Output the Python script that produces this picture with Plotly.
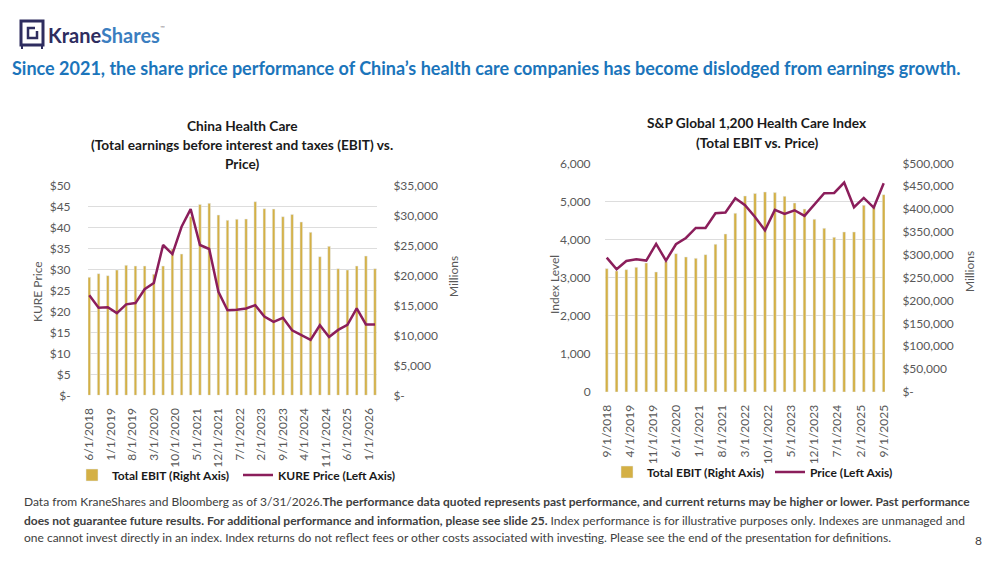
import plotly.graph_objects as go

FONT = "Lato"
GOLD = "#D4B045"
MAROON = "#8B1E5B"
GRID = "#DDDDDD"
TICK = "#595959"

# China Health Care (KURE) - quarterly
china_dates = [
    "2018-06-01", "2018-09-01", "2018-12-01",
    "2019-03-01", "2019-06-01", "2019-09-01", "2019-12-01",
    "2020-03-01", "2020-06-01", "2020-09-01", "2020-12-01",
    "2021-03-01", "2021-06-01", "2021-09-01", "2021-12-01",
    "2022-03-01", "2022-06-01", "2022-09-01", "2022-12-01",
    "2023-03-01", "2023-06-01", "2023-09-01", "2023-12-01",
    "2024-03-01", "2024-06-01", "2024-09-01", "2024-12-01",
    "2025-03-01", "2025-06-01", "2025-09-01", "2025-12-01",
    "2026-03-01",
]
china_ebit = [
    19700, 20310, 19980, 20920, 21700, 21590, 21590, 20200,
    21590, 24430, 23590, 29800, 31880, 32050, 30100, 29210,
    29400, 29440, 32330, 31160, 31100, 29830, 30210, 28940,
    27210, 23150, 24870, 21140, 20920, 21590, 23260, 21140,
]
kure_price = [
    23.85, 20.9, 21.0, 19.6, 21.7, 22.0, 25.3, 26.8,
    35.85, 33.7, 40.2, 44.4, 35.85, 34.9, 24.7, 20.3,
    20.4, 20.7, 21.5, 18.8, 17.5, 18.5, 15.5, 14.4,
    13.2, 16.7, 13.9, 15.6, 16.8, 20.75, 16.9, 16.9,
]

# S&P Global 1200 Health Care - quarterly
spx_dates = [
    "2018-09-01", "2018-12-01",
    "2019-03-01", "2019-06-01", "2019-09-01", "2019-12-01",
    "2020-03-01", "2020-06-01", "2020-09-01", "2020-12-01",
    "2021-03-01", "2021-06-01", "2021-09-01", "2021-12-01",
    "2022-03-01", "2022-06-01", "2022-09-01", "2022-12-01",
    "2023-03-01", "2023-06-01", "2023-09-01", "2023-12-01",
    "2024-03-01", "2024-06-01", "2024-09-01", "2024-12-01",
    "2025-03-01", "2025-06-01", "2025-09-01",
]
spx_ebit = [
    269700, 264600, 267500, 272600, 282100, 262400, 285000, 302500,
    295200, 292300, 300300, 322900, 345500, 390700, 428600, 434000,
    437300, 435900, 427800, 413300, 400000, 377600, 357900, 338200,
    349900, 349900, 408200, 406000, 431500,
]
spx_index = [
    3526, 3220, 3438, 3482, 3447, 3885, 3447, 3876,
    4042, 4304, 4304, 4689, 4707, 5083, 4899, 4590,
    4243, 4777, 4672, 4768, 4619, 4908, 5214, 5223,
    5494, 4847, 5092, 4838, 5477,
]

# axis ticks
price_ticks = [0, 5, 10, 15, 20, 25, 30, 35, 40, 45, 50]
price_text = ["$-", "$5", "$10", "$15", "$20", "$25", "$30", "$35", "$40", "$45", "$50"]
china_ebit_ticks = [0, 5000, 10000, 15000, 20000, 25000, 30000, 35000]
china_ebit_text = ["$-", "$5,000", "$10,000", "$15,000", "$20,000", "$25,000", "$30,000", "$35,000"]
index_ticks = [0, 1000, 2000, 3000, 4000, 5000, 6000]
index_text = ["0", "1,000", "2,000", "3,000", "4,000", "5,000", "6,000"]
spx_ebit_ticks = [0, 50000, 100000, 150000, 200000, 250000, 300000, 350000, 400000, 450000, 500000]
spx_ebit_text = ["$-", "$50,000", "$100,000", "$150,000", "$200,000", "$250,000",
                 "$300,000", "$350,000", "$400,000", "$450,000", "$500,000"]

W, H = 1000, 563


def px(x):
    return x / W


def py(y):
    return 1 - y / H


BAR_W = 26 * 24 * 3600 * 1000

fig = go.Figure()

fig.add_trace(go.Bar(x=china_dates, y=china_ebit, name="Total EBIT (Right Axis)",
                     marker_color=GOLD, width=BAR_W, xaxis="x", yaxis="y",
                     legend="legend"))
fig.add_trace(go.Scatter(x=china_dates, y=kure_price, name="KURE Price (Left Axis)",
                         mode="lines", line=dict(color=MAROON, width=2.5),
                         xaxis="x", yaxis="y2", legend="legend"))
fig.add_trace(go.Bar(x=spx_dates, y=spx_ebit, name="Total EBIT (Right Axis)",
                     marker_color=GOLD, width=BAR_W, xaxis="x2", yaxis="y3",
                     legend="legend2"))
fig.add_trace(go.Scatter(x=spx_dates, y=spx_index, name="Price (Left Axis)",
                         mode="lines", line=dict(color=MAROON, width=2.5),
                         xaxis="x2", yaxis="y4", legend="legend2"))

tickfont = dict(family=FONT, size=12, color=TICK)

xcommon = dict(type="date", dtick="M7", tickformat="%-m/%-d/%Y", tickangle=-90,
               showgrid=False, zeroline=False, showline=False, ticks="outside",
               ticklen=7, tickcolor="rgba(0,0,0,0)", tickfont=tickfont, automargin=False)
ycommon = dict(zeroline=False, ticks="outside", tickcolor="rgba(0,0,0,0)",
               tickfont=tickfont, automargin=False)
legfont = dict(family=FONT, size=12, color="#1a1a1a", weight="bold")

fig.update_layout(
    width=W, height=H,
    margin=dict(l=0, r=0, t=0, b=0),
    paper_bgcolor="white", plot_bgcolor="white",
    font=dict(family=FONT, color="#1a1a1a"),
    barmode="overlay",
    hovermode=False,
    xaxis=dict(domain=[px(88), px(377)], range=["2018-05-19", "2026-03-21"],
               tick0="2018-06-01", anchor="y", **xcommon),
    yaxis=dict(side="right", anchor="x", range=[0, 35000], tickvals=china_ebit_ticks,
               ticktext=china_ebit_text, showgrid=False,
               domain=[py(395.3), py(185.7)], ticklen=13, **ycommon),
    yaxis2=dict(side="left", overlaying="y", anchor="x", range=[0, 50],
                tickvals=price_ticks, ticktext=price_text, showgrid=True,
                gridcolor=GRID, gridwidth=1, ticklen=14, **ycommon),
    xaxis2=dict(domain=[px(605), px(885)], range=["2018-08-16", "2025-09-13"],
                tick0="2018-09-01", anchor="y3", **xcommon),
    yaxis3=dict(side="right", anchor="x2", range=[0, 500000], tickvals=spx_ebit_ticks,
                ticktext=spx_ebit_text, showgrid=False,
                domain=[py(392), py(163.3)], ticklen=14, **ycommon),
    yaxis4=dict(side="left", overlaying="y3", anchor="x2", range=[0, 6000],
                tickvals=index_ticks, ticktext=index_text, showgrid=True,
                gridcolor=GRID, gridwidth=1, ticklen=11, **ycommon),
    legend=dict(orientation="h", x=px(72), y=py(475), xanchor="left", yanchor="middle",
                font=legfont, bgcolor="rgba(0,0,0,0)", entrywidth=121),
    legend2=dict(orientation="h", x=px(607), y=py(472), xanchor="left", yanchor="middle",
                 font=legfont, bgcolor="rgba(0,0,0,0)", entrywidth=118),
)

ann = []


def text(x, y, s, size=12, color="#1a1a1a", bold=False, xanchor="center", angle=0):
    ann.append(dict(x=px(x), y=py(y), xref="paper", yref="paper", text=s,
                    showarrow=False, xanchor=xanchor, yanchor="middle", textangle=angle,
                    font=dict(family=FONT, size=size, color=color,
                              weight="bold" if bold else "normal")))


# header
text(46, 35, "<span style='color:#2E2D5F'>Krane</span><span style='color:#3B7EC0'>Shares</span>",
     size=20, bold=True, xanchor="left")
text(158, 27, "™", size=6, color="#888888", xanchor="left")
text(10, 68, "Since 2021, the share price performance of China’s health care companies has become dislodged from earnings growth.",
     size=18, color="#1B75BB", bold=True, xanchor="left")

# chart titles
text(242, 125, "China Health Care", size=13.7, bold=True)
text(242, 145, "(Total earnings before interest and taxes (EBIT) vs.", size=13.7, bold=True)
text(242, 163, "Price)", size=13.7, bold=True)
text(757, 122, "S&P Global 1,200 Health Care Index", size=13.7, bold=True)
text(757, 142, "(Total EBIT vs. Price)", size=13.7, bold=True)

# axis titles
text(37, 292, "KURE Price", color=TICK, angle=-90)
text(454, 277, "Millions", color=TICK, angle=-90)
text(554, 285, "Index Level", color=TICK, angle=-90)
text(969, 272, "Millions", color=TICK, angle=-90)

# footer
FOOT = 12
text(22, 502, "Data from KraneShares and Bloomberg as of 3/31/2026.<b>The performance data quoted represents past performance, "
     "and current returns may be higher or lower. Past performance</b>", size=FOOT, color="#404040", xanchor="left")
text(22, 520, "<b>does not guarantee future results. For additional performance and information, please see slide 25.</b> "
     "Index performance is for illustrative purposes only. Indexes are unmanaged and", size=FOOT, color="#404040", xanchor="left")
text(22, 537, "one cannot invest directly in an index. Index returns do not reflect fees or other costs associated with investing. "
     "Please see the end of the presentation for definitions.", size=FOOT, color="#404040", xanchor="left")
text(978, 540, "8", size=12, color="#404040")

fig.update_layout(annotations=ann)

# logo
NAVY = "#2E2D5F"
fig.add_shape(type="rect", xref="paper", yref="paper", x0=px(21), x1=px(43), y0=py(45), y1=py(21),
              line=dict(color=NAVY, width=3))
fig.add_shape(type="path", xref="paper", yref="paper",
              path=f"M {px(35)},{py(28)} L {px(28)},{py(28)} L {px(28)},{py(38)} L {px(37)},{py(38)} L {px(37)},{py(31)}",
              line=dict(color=NAVY, width=2.5))
fig.add_shape(type="line", xref="paper", yref="paper", x0=px(22), x1=px(22), y0=py(45), y1=py(49),
              line=dict(color=NAVY, width=2))
fig.add_shape(type="line", xref="paper", yref="paper", x0=px(42), x1=px(42), y0=py(45), y1=py(49),
              line=dict(color=NAVY, width=2))

fig.write_html("out.html", config={"displayModeBar": False},
               post_script="document.body.style.margin='0px';")
